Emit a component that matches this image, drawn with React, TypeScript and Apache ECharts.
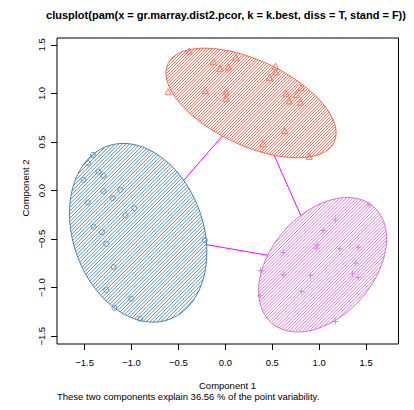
import React, { useEffect, useRef } from "react";
import * as echarts from "echarts";

// ---------- data ----------
const xTicks = [-1.5, -1.0, -0.5, 0.0, 0.5, 1.0, 1.5];
const yTicks = [-1.5, -1.0, -0.5, 0.0, 0.5, 1.0, 1.5];

// cluster 1 (blue circles)
const cluster1: number[][] = [
  [-1.411, 0.367], [-1.464, 0.282], [-1.351, 0.195], [-1.298, 0.151],
  [-1.511, 0.110], [-1.298, -0.006], [-1.120, 0.007], [-1.202, -0.078],
  [-1.468, -0.123], [-0.971, -0.181], [-1.064, -0.255], [-1.404, -0.373],
  [-1.315, -0.428], [-1.269, -0.548], [-0.219, -0.510], [-1.191, -0.787],
  [-1.269, -1.025], [-1.002, -1.114], [-1.182, -1.207], [-0.907, -1.320],
];

// cluster 2 (red triangles)
const cluster2: number[][] = [
  [-0.383, 1.437], [-0.128, 1.327], [0.110, 1.372], [-0.056, 1.259],
  [0.032, 1.270], [-0.610, 1.018], [-0.213, 1.028], [0.007, 1.018],
  [0.007, 0.950], [0.534, 1.280], [0.536, 1.221], [0.471, 1.166],
  [0.646, 1.002], [0.759, 0.990], [0.807, 1.062], [0.681, 0.923],
  [0.802, 0.910], [0.633, 0.616], [0.401, 0.486], [0.893, 0.352],
];

// cluster 3 (pink pluses)
const cluster3: number[][] = [
  [1.532, -0.147], [1.174, -0.302], [1.043, -0.412], [0.979, -0.559],
  [0.965, -0.593], [1.220, -0.600], [1.415, -0.583], [0.617, -0.638],
  [1.390, -0.747], [0.376, -0.824], [0.617, -0.867], [0.908, -0.874],
  [1.355, -0.857], [1.415, -0.895], [0.813, -1.039], [0.369, -1.084],
  [1.174, -1.348],
];

// cluster ellipses: [centerX, centerY, semiMajor, semiMinor, angleDeg]
const ellipses: number[][] = [
  [-0.929, -0.435, 0.951, 0.691, -68.4],
  [0.273, 0.902, 0.973, 0.440, -24.0],
  [1.036, -0.764, 0.809, 0.538, 46.1],
];

// pairs of clusters joined by a segment
const links: number[][] = [[0, 1], [0, 2], [1, 2]];

// ---------- styles ----------
const clusterColors = ["#4682B4", "#FF6347", "#DA70D6"];
const hatchStep = [3.6, 3.0, 3.3];
const FONT = "Liberation Sans, Arial, Helvetica, sans-serif";

const fmt = (v: number) => v.toFixed(1).replace("-", "\u2212");

function exitParam(e: number[], dx: number, dy: number) {
  const phi = (e[4] * Math.PI) / 180;
  const u = dx * Math.cos(phi) + dy * Math.sin(phi);
  const v = -dx * Math.sin(phi) + dy * Math.cos(phi);
  return 1 / Math.sqrt((u / e[2]) ** 2 + (v / e[3]) ** 2);
}

function linkSegments() {
  return links.map(([i, j]) => {
    const a = ellipses[i];
    const b = ellipses[j];
    const dx = b[0] - a[0];
    const dy = b[1] - a[1];
    const si = exitParam(a, dx, dy);
    const sj = exitParam(b, -dx, -dy);
    return [
      [a[0] + si * dx, a[1] + si * dy],
      [b[0] - sj * dx, b[1] - sj * dy],
    ];
  });
}

function hatch(pts: number[][], step: number) {
  let mn = Infinity;
  let mx = -Infinity;
  for (const p of pts) {
    const s = p[0] + p[1];
    if (s < mn) mn = s;
    if (s > mx) mx = s;
  }
  const out: number[][] = [];
  const n = pts.length;
  for (let c = Math.ceil(mn / step) * step; c < mx; c += step) {
    const hits: number[][] = [];
    for (let i = 0; i < n; i++) {
      const p = pts[i];
      const q = pts[(i + 1) % n];
      const fp = p[0] + p[1] - c;
      const fq = q[0] + q[1] - c;
      if ((fp <= 0 && fq > 0) || (fp > 0 && fq <= 0)) {
        const t = fp / (fp - fq);
        hits.push([p[0] + t * (q[0] - p[0]), p[1] + t * (q[1] - p[1])]);
      }
    }
    if (hits.length >= 2) out.push([hits[0][0], hits[0][1], hits[1][0], hits[1][1]]);
  }
  return out;
}

export default function App() {
  const ref = useRef<HTMLDivElement>(null);

  useEffect(() => {
    if (!ref.current) return;
    const chart = echarts.init(ref.current, undefined, { renderer: "svg" });

    const option: any = {
      animation: false,
      grid: {
        left: 57,
        right: 15.5,
        top: 38,
        bottom: 66,
        show: true,
        borderColor: "#000",
        borderWidth: 1,
        backgroundColor: "transparent",
      },
      xAxis: {
        type: "value",
        position: "bottom",
        min: -1.794,
        max: 1.845,
        axisLine: { show: false, onZero: false },
        splitLine: { show: false },
        axisTick: { show: true, customValues: xTicks, length: 6, lineStyle: { color: "#000", width: 1 } },
        axisLabel: {
          customValues: xTicks,
          formatter: fmt,
          fontSize: 9.5,
          fontFamily: FONT,
          color: "#000",
          margin: 13,
        },
      },
      yAxis: {
        type: "value",
        position: "left",
        min: -1.58,
        max: 1.571,
        axisLine: { show: false, onZero: false },
        splitLine: { show: false },
        axisTick: { show: true, customValues: yTicks, length: 6, lineStyle: { color: "#000", width: 1 } },
        axisLabel: {
          customValues: yTicks,
          formatter: fmt,
          rotate: 90,
          fontSize: 9.5,
          fontFamily: FONT,
          color: "#000",
          margin: 11,
        },
      },
      graphic: [
        {
          type: "text",
          x: 226,
          y: 15,
          style: {
            text: "clusplot(pam(x = gr.marray.dist2.pcor, k = k.best, diss = T, stand = F))",
            font: `bold 11px ${FONT}`,
            fill: "#000",
            textAlign: "center",
            textVerticalAlign: "middle",
            align: "center",
            verticalAlign: "middle",
          },
        },
        {
          type: "text",
          x: 227.5,
          y: 385,
          style: {
            text: "Component 1",
            font: `9.5px ${FONT}`,
            fill: "#000",
            textAlign: "center",
            textVerticalAlign: "middle",
            align: "center",
            verticalAlign: "middle",
          },
        },
        {
          type: "text",
          x: 57,
          y: 396.7,
          style: {
            text: "These two components explain 36.56 % of the point variability.",
            font: `9.5px ${FONT}`,
            fill: "#000",
            textAlign: "left",
            textVerticalAlign: "middle",
            align: "left",
            verticalAlign: "middle",
          },
        },
        {
          type: "text",
          x: 25,
          y: 188,
          rotation: Math.PI / 2,
          style: {
            text: "Component 2",
            font: `9.5px ${FONT}`,
            fill: "#000",
            textAlign: "center",
            textVerticalAlign: "middle",
            align: "center",
            verticalAlign: "middle",
          },
        },
      ],
      series: [
        {
          type: "lines",
          coordinateSystem: "cartesian2d",
          silent: true,
          z: 1,
          data: linkSegments().map((s) => ({ coords: s })),
          lineStyle: { color: "#FF00FF", width: 1, opacity: 1 },
        },
        {
          type: "custom",
          silent: true,
          z: 2,
          data: ellipses,
          renderItem: (params: any, api: any) => {
            const i = params.dataIndex;
            const cx = api.value(0);
            const cy = api.value(1);
            const a = api.value(2);
            const b = api.value(3);
            const phi = (api.value(4) * Math.PI) / 180;
            const pts: number[][] = [];
            const N = 144;
            for (let k = 0; k < N; k++) {
              const t = (2 * Math.PI * k) / N;
              const dx = a * Math.cos(t);
              const dy = b * Math.sin(t);
              const x = cx + dx * Math.cos(phi) - dy * Math.sin(phi);
              const y = cy + dx * Math.sin(phi) + dy * Math.cos(phi);
              pts.push(api.coord([x, y]));
            }
            const color = clusterColors[i];
            const children: any[] = hatch(pts, hatchStep[i]).map((l) => ({
              type: "line",
              shape: { x1: l[0], y1: l[1], x2: l[2], y2: l[3] },
              style: { stroke: color, lineWidth: 0.9 },
            }));
            children.push({
              type: "polygon",
              shape: { points: pts },
              style: { fill: "none", stroke: color, lineWidth: 1 },
            });
            return { type: "group", children };
          },
        },
        {
          type: "scatter",
          silent: true,
          z: 3,
          data: cluster1,
          symbol: "circle",
          symbolSize: 5,
          itemStyle: { color: "rgba(0,0,0,0)", borderColor: clusterColors[0], borderWidth: 1 },
        },
        {
          type: "scatter",
          silent: true,
          z: 3,
          data: cluster2,
          symbol: "triangle",
          symbolSize: 6,
          itemStyle: { color: "rgba(0,0,0,0)", borderColor: clusterColors[1], borderWidth: 1 },
        },
        {
          type: "scatter",
          silent: true,
          z: 3,
          data: cluster3,
          symbol: "path://M0,5L10,5M5,0L5,10",
          symbolSize: 6,
          itemStyle: { color: "rgba(0,0,0,0)", borderColor: clusterColors[2], borderWidth: 1 },
        },
      ],
    };

    chart.setOption(option);
    return () => chart.dispose();
  }, []);

  return <div ref={ref} style={{ width: 414, height: 410, position: "absolute", left: 0, top: 0 }} />;
}
